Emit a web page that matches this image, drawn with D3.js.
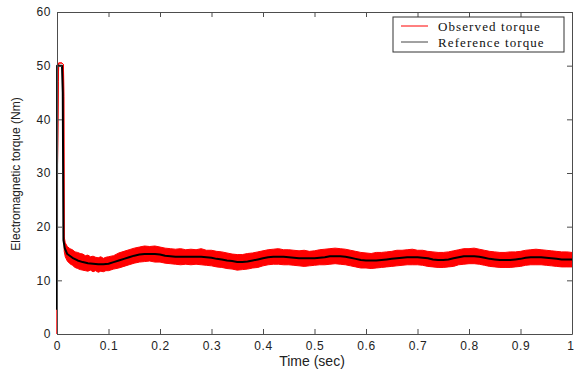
<!DOCTYPE html>
<html>
<head>
<meta charset="utf-8">
<script src="https://cdn.jsdelivr.net/npm/d3@7/dist/d3.min.js"></script>
<style>
  html, body { margin: 0; padding: 0; background: #fff; }
  svg { display: block; }
</style>
</head>
<body>
<svg id="chart" width="574" height="374"></svg>
<script>
// Tick labels
const xTicks = [0, 0.1, 0.2, 0.3, 0.4, 0.5, 0.6, 0.7, 0.8, 0.9, 1];
const xTickLabels = ["0", "0.1", "0.2", "0.3", "0.4", "0.5", "0.6", "0.7", "0.8", "0.9", "1"];
const yTicks = [0, 10, 20, 30, 40, 50, 60];

// Reference torque (Nm) against time (s)
const refTime = [0, 0.0002, 0.0097, 0.0112, 0.0125, 0.015, 0.02, 0.03, 0.04, 0.05, 0.06, 0.07, 0.08, 0.09,
  0.10, 0.11, 0.12, 0.13, 0.14, 0.15, 0.16, 0.17, 0.18, 0.19, 0.20, 0.21, 0.22, 0.23, 0.24, 0.25, 0.26, 0.27, 0.28, 0.29,
  0.30, 0.31, 0.32, 0.33, 0.34, 0.35, 0.36, 0.37, 0.38, 0.39, 0.40, 0.41, 0.42, 0.43, 0.44, 0.45, 0.46, 0.47, 0.48, 0.49,
  0.50, 0.51, 0.52, 0.53, 0.54, 0.55, 0.56, 0.57, 0.58, 0.59, 0.60, 0.61, 0.62, 0.63, 0.64, 0.65, 0.66, 0.67, 0.68, 0.69,
  0.70, 0.71, 0.72, 0.73, 0.74, 0.75, 0.76, 0.77, 0.78, 0.79, 0.80, 0.81, 0.82, 0.83, 0.84, 0.85, 0.86, 0.87, 0.88, 0.89,
  0.90, 0.91, 0.92, 0.93, 0.94, 0.95, 0.96, 0.97, 0.98, 0.99, 1.00];
const refTorque = [4.5, 50.0, 50.0, 45.0, 17.5, 16.0, 14.9, 14.2, 13.7, 13.4, 13.2, 13.1, 13.0, 13.0,
  13.1, 13.4, 13.7, 14.0, 14.3, 14.6, 14.8, 14.9, 14.9, 14.9, 14.8, 14.6, 14.5, 14.4, 14.4, 14.4, 14.4, 14.4, 14.4, 14.3,
  14.2, 14.0, 13.9, 13.7, 13.6, 13.4, 13.4, 13.5, 13.7, 13.9, 14.1, 14.3, 14.4, 14.4, 14.4, 14.3, 14.2, 14.1, 14.1, 14.1,
  14.1, 14.2, 14.3, 14.5, 14.5, 14.5, 14.4, 14.2, 14.0, 13.8, 13.7, 13.7, 13.7, 13.8, 13.9, 14.0, 14.1, 14.2, 14.3, 14.3,
  14.3, 14.2, 14.1, 13.9, 13.8, 13.8, 13.9, 14.1, 14.3, 14.5, 14.5, 14.5, 14.4, 14.2, 14.0, 13.9, 13.8, 13.8, 13.8, 13.9,
  14.0, 14.2, 14.3, 14.3, 14.3, 14.2, 14.1, 14.0, 13.9, 13.9, 13.9];

// Observed torque (Nm): upper and lower envelope of the ripple band
const obsTime = [0, 0.0003, 0.0025, 0.0033, 0.0095, 0.0125, 0.0132, 0.014, 0.016, 0.02, 0.025, 0.03, 0.035, 0.04, 0.045, 0.05,
  0.055, 0.06, 0.065, 0.07, 0.075, 0.08, 0.085, 0.09, 0.095, 0.10, 0.11, 0.12, 0.13, 0.14, 0.15, 0.16, 0.17, 0.18, 0.19,
  0.20, 0.21, 0.22, 0.23, 0.24, 0.25, 0.26, 0.27, 0.28, 0.29, 0.30, 0.31, 0.32, 0.33, 0.34, 0.35, 0.36, 0.37, 0.38, 0.39,
  0.40, 0.41, 0.42, 0.43, 0.44, 0.45, 0.46, 0.47, 0.48, 0.49, 0.50, 0.51, 0.52, 0.53, 0.54, 0.55, 0.56, 0.57, 0.58, 0.59,
  0.60, 0.61, 0.62, 0.63, 0.64, 0.65, 0.66, 0.67, 0.68, 0.69, 0.70, 0.71, 0.72, 0.73, 0.74, 0.75, 0.76, 0.77, 0.78, 0.79,
  0.80, 0.81, 0.82, 0.83, 0.84, 0.85, 0.86, 0.87, 0.88, 0.89, 0.90, 0.91, 0.92, 0.93, 0.94, 0.95, 0.96, 0.97, 0.98, 0.99, 1.00];
const obsUpper = [0, 24.4, 47.0, 50.5, 50.5, 50.2, 44.2, 18.1, 17.0, 16.3, 15.9, 15.7, 15.3, 15.2, 15.0, 14.9,
  14.6, 14.7, 14.4, 14.5, 14.3, 14.2, 14.4, 14.1, 14.3, 14.4, 14.6, 15.1, 15.4, 15.7, 16.0, 16.2, 16.4, 16.3, 16.4,
  16.2, 16.0, 15.9, 15.8, 15.9, 15.7, 15.8, 15.7, 15.9, 15.6, 15.6, 15.4, 15.3, 15.1, 14.9, 14.8, 14.8, 15.0, 15.1, 15.3,
  15.5, 15.7, 15.8, 15.9, 15.7, 15.7, 15.6, 15.5, 15.6, 15.4, 15.5, 15.7, 15.8, 15.9, 16.0, 15.9, 15.8, 15.6, 15.4, 15.2,
  15.1, 15.0, 15.2, 15.2, 15.3, 15.4, 15.6, 15.6, 15.7, 15.8, 15.6, 15.6, 15.4, 15.3, 15.2, 15.2, 15.3, 15.5, 15.7, 15.9,
  15.9, 16.0, 15.8, 15.6, 15.4, 15.3, 15.2, 15.2, 15.3, 15.3, 15.4, 15.6, 15.7, 15.8, 15.7, 15.6, 15.5, 15.4, 15.3, 15.3, 15.2];
const obsLower = [0, 24.4, 47.0, 50.5, 50.5, 50.2, 44.2, 15.4, 14.4, 13.6, 13.1, 12.8, 12.4, 12.2, 12.0, 11.9,
  11.8, 11.7, 11.9, 11.6, 11.8, 11.5, 11.7, 11.6, 11.8, 11.8, 12.1, 12.3, 12.6, 12.9, 13.2, 13.4, 13.5, 13.6, 13.4,
  13.4, 13.2, 13.1, 13.0, 12.9, 13.0, 12.9, 13.0, 12.9, 12.8, 12.7, 12.5, 12.4, 12.2, 12.1, 11.9, 12.0, 12.1, 12.3, 12.4,
  12.7, 12.9, 13.0, 13.0, 12.9, 12.9, 12.8, 12.7, 12.6, 12.7, 12.8, 12.9, 12.9, 13.0, 13.1, 13.0, 12.9, 12.7, 12.5, 12.3,
  12.3, 12.2, 12.3, 12.4, 12.5, 12.6, 12.7, 12.8, 12.9, 12.9, 12.9, 12.8, 12.6, 12.5, 12.4, 12.4, 12.5, 12.6, 12.9, 13.0,
  13.1, 13.1, 13.0, 12.8, 12.6, 12.5, 12.4, 12.4, 12.4, 12.5, 12.6, 12.8, 12.9, 12.9, 12.9, 12.8, 12.7, 12.6, 12.5, 12.5, 12.5];

const seriesNames = ["Observed torque", "Reference torque"];
const seriesColors = ["#ff0000", "#000000"];

const svg = d3.select("#chart");
const plotLeft = 57, plotRight = 572, plotTop = 12, plotBottom = 334;

const x = d3.scaleLinear().domain([0, 1]).range([plotLeft, plotRight]);
const y = d3.scaleLinear().domain([0, 60]).range([plotBottom, plotTop]);

const axisColor = "#4d4d4d";
const labelFont = "'Liberation Sans', Arial, sans-serif";

// Observed torque band
const obs = obsTime.map((t, i) => ({ t, hi: obsUpper[i], lo: obsLower[i] }));
svg.append("path")
  .datum(obs)
  .attr("fill", seriesColors[0])
  .attr("stroke", seriesColors[0])
  .attr("stroke-width", 1)
  .attr("d", d3.area().x(d => x(d.t)).y0(d => y(d.lo)).y1(d => y(d.hi)));

// Reference torque line
const ref = refTime.map((t, i) => ({ t, v: refTorque[i] }));
svg.append("path")
  .datum(ref)
  .attr("fill", "none")
  .attr("stroke", seriesColors[1])
  .attr("stroke-width", 2)
  .attr("stroke-linejoin", "round")
  .attr("d", d3.line().x(d => x(d.t)).y(d => y(d.v)));

// Axes with inward ticks on all four sides
function styleAxis(g) {
  g.select(".domain").attr("stroke", axisColor);
  g.selectAll(".tick line").attr("stroke", axisColor);
  g.selectAll(".tick text")
    .attr("fill", "#222")
    .style("font-family", labelFont)
    .style("font-size", "12px")
    .style("letter-spacing", "0.6px");
}

const xAxisG = svg.append("g")
  .attr("transform", `translate(0,${plotBottom})`)
  .call(d3.axisBottom(x).tickValues(xTicks).tickFormat((d, i) => xTickLabels[i])
    .tickSizeInner(-5).tickSizeOuter(0).tickPadding(7))
  .call(styleAxis);
// keep the last label inside the page edge
xAxisG.selectAll(".tick text").filter(d => d === 1)
  .attr("text-anchor", "end").attr("dx", "2");

svg.append("g")
  .attr("transform", `translate(0,${plotTop})`)
  .call(d3.axisTop(x).tickValues(xTicks).tickFormat("")
    .tickSizeInner(-5).tickSizeOuter(0))
  .call(styleAxis);

svg.append("g")
  .attr("transform", `translate(${plotLeft},0)`)
  .call(d3.axisLeft(y).tickValues(yTicks).tickFormat(d3.format("d"))
    .tickSizeInner(-5).tickSizeOuter(0).tickPadding(6))
  .call(styleAxis);

svg.append("g")
  .attr("transform", `translate(${plotRight},0)`)
  .call(d3.axisRight(y).tickValues(yTicks).tickFormat("")
    .tickSizeInner(-5).tickSizeOuter(0))
  .call(styleAxis);

// Axis titles
svg.append("text")
  .attr("x", 312)
  .attr("y", 366)
  .attr("text-anchor", "middle")
  .attr("fill", "#222")
  .style("font-family", labelFont)
  .style("font-size", "14px")
  .text("Time (sec)");

svg.append("text")
  .attr("transform", "translate(20,174) rotate(-90)")
  .attr("text-anchor", "middle")
  .attr("fill", "#222")
  .style("font-family", labelFont)
  .style("font-size", "12px")
  .text("Electromagnetic torque (Nm)");

// Legend
const legend = svg.append("g");
legend.append("rect")
  .attr("x", 393).attr("y", 17).attr("width", 171).attr("height", 35)
  .attr("fill", "#fff").attr("stroke", "#333").attr("stroke-width", 1);
seriesNames.forEach((name, i) => {
  const ly = 26 + i * 16;
  legend.append("line")
    .attr("x1", 401).attr("x2", 428).attr("y1", ly).attr("y2", ly)
    .attr("stroke", i === 0 ? seriesColors[0] : "#444").attr("stroke-width", 1);
  legend.append("text")
    .attr("x", 438).attr("y", ly + 4.5)
    .attr("fill", "#111")
    .style("font-family", "'Liberation Serif', 'Times New Roman', serif")
    .style("font-size", "13px")
    .style("letter-spacing", "1.1px")
    .text(name);
});
</script>
</body>
</html>
